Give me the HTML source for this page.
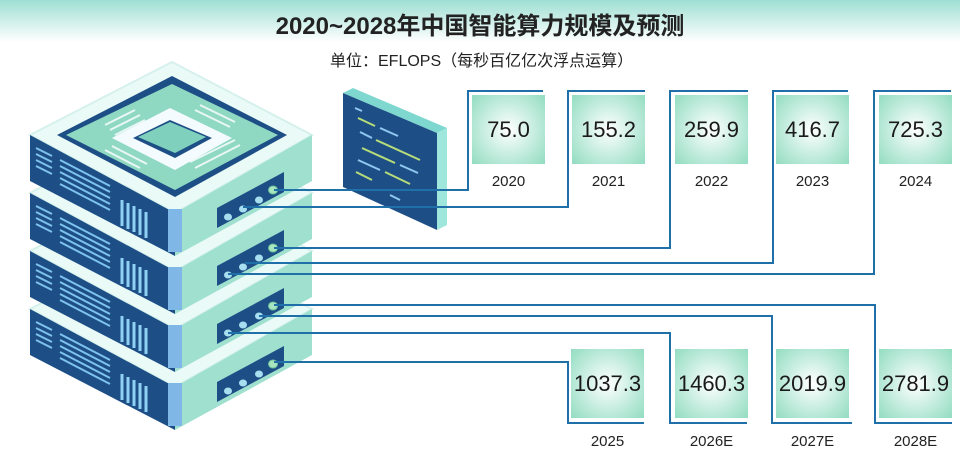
<!DOCTYPE html>
<html><head><meta charset="utf-8"><style>
body{margin:0;width:960px;height:455px;overflow:hidden;background:#fff;font-family:"Liberation Sans","Noto Sans CJK SC",sans-serif;position:relative}
.hdr{position:absolute;left:0;top:0;width:960px;height:42px;background:linear-gradient(#9edfd3,#ffffff)}
.t{position:absolute;left:0;width:960px;text-align:center;top:6px;font-size:24px;font-weight:bold;color:#222}
.s{position:absolute;left:330px;top:47px;font-size:16px;color:#222}
.b{position:absolute;width:73px;height:69px;background:radial-gradient(circle,#ffffff 0%,#d8f3ea 35%,#92dcc1 100%);font-size:22px;color:#1a1a1a;display:flex;align-items:center;justify-content:center}
.l{position:absolute;width:73px;text-align:center;font-size:15px;color:#222}
svg{position:absolute;left:0;top:0}
</style></head><body>
<div class="hdr"></div>
<div class="t">2020~2028年中国智能算力规模及预测</div>
<div class="s">单位：EFLOPS（每秒百亿亿次浮点运算）</div>
<svg width="960" height="455">
<defs>
<g id="layer">
  <polygon points="30,135 172,62 312,135 175,213" fill="#eafaf7" stroke="#d6f1ec" stroke-width="2"/>
  <polygon points="30,135 175,213 175,256 30,181" fill="#1d4f86"/>
  <polygon points="175,213 312,135 312,181 175,256" fill="#9fe0cf"/>
  <polygon points="168,209 182,209 182,252 168,252" fill="#7fb8e6"/>
  <g stroke="#7ec2ee" stroke-width="2">
    <line x1="36" y1="148" x2="52" y2="156"/><line x1="36" y1="154" x2="52" y2="162"/><line x1="36" y1="160" x2="52" y2="168"/><line x1="36" y1="166" x2="52" y2="174"/>
    <line x1="60" y1="160" x2="110" y2="186"/><line x1="60" y1="166" x2="110" y2="192"/><line x1="60" y1="172" x2="110" y2="198"/><line x1="60" y1="178" x2="110" y2="204"/><line x1="60" y1="184" x2="110" y2="210"/>
  </g>
  <g stroke="#8fd0f4" stroke-width="3">
    <line x1="122" y1="200" x2="122" y2="226"/><line x1="128" y1="203" x2="128" y2="229"/><line x1="134" y1="206" x2="134" y2="232"/><line x1="140" y1="209" x2="140" y2="235"/><line x1="146" y1="212" x2="146" y2="238"/>
  </g>
  <polygon points="217,208 284,172 284,192 217,228" fill="#1d4f86"/>
  <ellipse cx="228" cy="217" rx="4" ry="3.5" fill="#a8dff0"/>
  <ellipse cx="243" cy="209" rx="4" ry="3.5" fill="#a8dff0"/>
  <ellipse cx="259" cy="200" rx="4" ry="3.5" fill="#a8dff0"/>
  <ellipse cx="273" cy="190" rx="4.5" ry="4" fill="#a8e6c0" stroke="#6cc09a"/>
</g>
</defs>
<use href="#layer" y="174"/>
<use href="#layer" y="116"/>
<use href="#layer" y="58"/>
<use href="#layer" y="0"/>
<polygon points="57,135 172,76 287,135 175,197" fill="#1d4f86"/>
<polygon points="66,135 172,84 278,135 175,190" fill="#8fd8c2"/>
<g stroke="#e8f7f4" stroke-width="2">
<line x1="105" y1="125" x2="135" y2="110"/><line x1="110" y1="130" x2="140" y2="115"/><line x1="115" y1="135" x2="145" y2="120"/>
<line x1="200" y1="105" x2="235" y2="122"/><line x1="195" y1="110" x2="230" y2="127"/>
<line x1="105" y1="150" x2="140" y2="168"/><line x1="112" y1="146" x2="147" y2="164"/>
<line x1="195" y1="168" x2="240" y2="145"/><line x1="190" y1="162" x2="235" y2="140"/>
</g>
<polygon points="112,138 170,108 232,138 175,170" fill="#f4fbff"/>
<polygon points="133,138 170,120 212,138 175,158" fill="#1d4f86"/>
<polygon points="138,137 170,122 206,137 175,153" fill="#7fd0bd"/>
<polygon points="343,93 353,88 447,128 437,133" fill="#7fd8d0"/>
<polygon points="437,133 447,128 447,225 437,230" fill="#9fe6dc"/>
<polygon points="343,93 437,133 437,230 343,187" fill="#1d4f86"/>
<g stroke-width="2">
<line x1="355" y1="108" x2="362" y2="111" stroke="#8fc8f0"/>
<line x1="358" y1="118" x2="375" y2="126" stroke="#b7dc7a"/><line x1="380" y1="128" x2="398" y2="136" stroke="#8fc8f0"/>
<line x1="360" y1="132" x2="372" y2="138" stroke="#8fc8f0"/><line x1="376" y1="140" x2="420" y2="160" stroke="#b7dc7a"/>
<line x1="362" y1="148" x2="395" y2="163" stroke="#b7dc7a"/><line x1="400" y1="165" x2="418" y2="173" stroke="#8fc8f0"/>
<line x1="358" y1="160" x2="380" y2="170" stroke="#8fc8f0"/><line x1="385" y1="172" x2="410" y2="184" stroke="#b7dc7a"/>
<line x1="356" y1="172" x2="372" y2="180" stroke="#b7dc7a"/><line x1="390" y1="195" x2="400" y2="200" stroke="#8fc8f0"/>
</g>
<g fill="none" stroke="#1f6fa8" stroke-width="2">
<polyline points="274,190 468,190 468,91 543,91"/>
<polyline points="243,207 568,207 568,91 645,91"/>
<polyline points="274,248 670,248 670,91 748,91"/>
<polyline points="245,263 773,263 773,91 848,91"/>
<polyline points="228,274 874,274 874,91 951,91"/>
<polyline points="274,305 875,305 875,423 952,423"/>
<polyline points="259,316 772,316 772,423 852,423"/>
<polyline points="228,333 670,333 670,423 747,423"/>
<polyline points="274,362 568,362 568,423 644,423"/>
</g>
</svg>
<div class="b" style="left:472px;top:95px">75.0</div><div class="l" style="left:472px;top:173px">2020</div>
<div class="b" style="left:572px;top:95px">155.2</div><div class="l" style="left:572px;top:173px">2021</div>
<div class="b" style="left:675px;top:95px">259.9</div><div class="l" style="left:675px;top:173px">2022</div>
<div class="b" style="left:776px;top:95px">416.7</div><div class="l" style="left:776px;top:173px">2023</div>
<div class="b" style="left:879px;top:95px">725.3</div><div class="l" style="left:879px;top:173px">2024</div>
<div class="b" style="left:571px;top:349px">1037.3</div><div class="l" style="left:571px;top:433px">2025</div>
<div class="b" style="left:675px;top:349px">1460.3</div><div class="l" style="left:675px;top:433px">2026E</div>
<div class="b" style="left:776px;top:349px">2019.9</div><div class="l" style="left:776px;top:433px">2027E</div>
<div class="b" style="left:879px;top:349px">2781.9</div><div class="l" style="left:879px;top:433px">2028E</div>
</body></html>
